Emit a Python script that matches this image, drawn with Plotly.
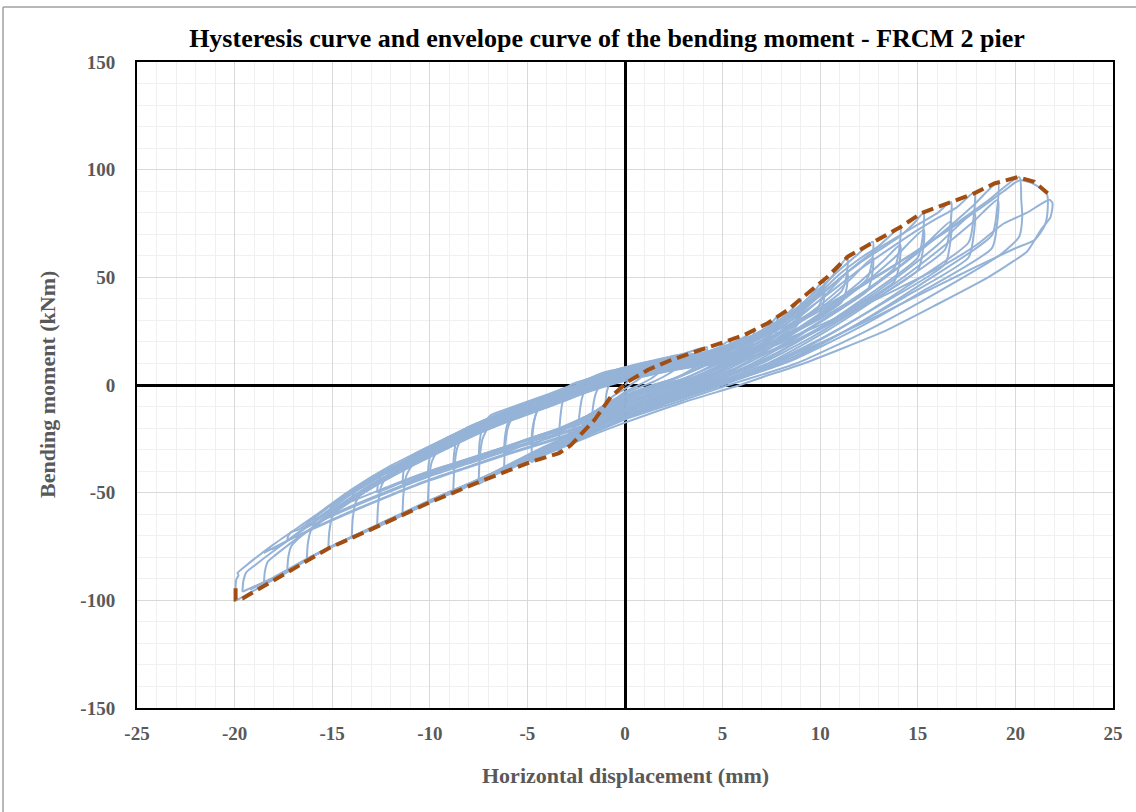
import plotly.graph_objects as go

# ---------------- data ----------------
x_tick_vals = [-25, -20, -15, -10, -5, 0, 5, 10, 15, 20, 25]
x_tick_text = ["-25", "-20", "-15", "-10", "-5", "0", "5", "10", "15", "20", "25"]
y_tick_vals = [-150, -100, -50, 0, 50, 100, 150]
y_tick_text = ["-150", "-100", "-50", "0", "50", "100", "150"]

envelope_x = [-19.95, -19.95, -19.6, -18.0, -15.2, -12.7, -10.1, -7.44, -4.8, -3.38, -2.77, -1.57, -0.72,
              0.14, 1.16, 2.36, 3.9, 4.92, 6.11, 7.31, 8.33, 9.36, 10.38, 11.41, 12.77, 14.14, 15.16,
              16.53, 17.89, 18.92, 20.12, 20.97, 21.65]
envelope_y = [-94.4, -99.6, -99.2, -90.6, -75.9, -65.8, -54.9, -44.9, -35.6, -31.7, -27.9, -16.3, -5.4,
              1.5, 7.0, 11.6, 16.3, 19.4, 23.2, 28.7, 34.8, 42.6, 50.3, 59.6, 66.6, 73.5, 79.7,
              84.4, 89.0, 93.6, 96.5, 94.4, 89.0]

loop_c01 = [(0, 0), (0.3, 3.2), (0.6, 5.6), (1.0, 7.5), (0.95, 5.2), (0.75, 3), (0.4, 0.8), (0, -1.8),
            (-0.5, -4.5), (-1.0, -8)]
loop_c02 = [(-1.0, -8), (-0.95, -4), (-0.8, 0.5), (-0.5, 4.5), (0, 7.5), (1, 10), (2, 11.8), (1.95, 8.8),
            (1.75, 6), (1.3, 2.8), (0.6, -0.5), (0, -3.2), (-0.6, -7.5), (-1.2, -12.5), (-1.7, -18)]
loop_c03 = [(-1.7, -18), (-1.65, -11), (-1.5, -4), (-1.2, 1.5), (-1, 4.5), (0, 8), (1, 10.3), (2, 12.3),
            (3, 14.2), (2.95, 11.2), (2.7, 8.2), (2.2, 5), (1.5, 1.7), (0.6, -1.6), (0, -4), (-1, -9),
            (-1.8, -14.5), (-2.2, -19), (-2.4, -24)]
loop_c04 = [(-2.4, -24), (-2.35, -15), (-2.2, -6), (-1.9, 0.5), (-1, 5.5), (0, 8.3), (1, 10.5), (2, 12.5),
            (3, 14.5), (4.2, 17.5), (4.15, 14), (3.9, 10.6), (3.3, 6.6), (2.5, 3), (1.5, 0), (0.5, -3),
            (0, -5), (-1, -9.5), (-2, -15), (-2.8, -21.5), (-3.2, -27), (-3.4, -31.5)]
loop_c05 = [(-3.4, -31.5), (-3.35, -19), (-3.2, -8), (-2.8, 0), (-2, 2.5), (-1, 6), (0, 8), (1, 10), (2, 12),
            (3, 13.8), (4, 15), (4.8, 17.5), (5.4, 20.8), (5.35, 17.8), (5.1, 15.3), (4.2, 10.3), (3.35, 6.2),
            (2.5, 2.6), (1.6, 0), (0.8, -3), (0, -6), (-1, -11.8), (-2, -18.7), (-3, -25.5), (-4, -31.3),
            (-4.8, -36)]
loop_r05 = [(-4.8, -36), (-4.75, -24.5), (-4.6, -14.5), (-4.2, -7.1), (-3, -3.5), (-2, 0.5), (-1, 4), (0, 6),
            (1, 8), (2, 10), (3, 12.2), (4, 13.5), (4.9, 15.7), (5.4, 18.5), (5.35, 16), (5.1, 13.7),
            (4.2, 9.3), (3.25, 5.5), (2.3, 2.3), (1.4, 0), (0.7, -2.5), (0, -5), (-1, -9.4), (-2, -14.8),
            (-3, -20.1), (-4, -24.5), (-4.8, -28)]
loop_c06 = [(-4.8, -28), (-4.75, -20.9), (-4.6, -14.6), (-4.2, -6.1), (-3, -2.5), (-2, 1.5), (-1, 5), (0, 7),
            (1, 9), (2, 11), (3, 13), (4, 14.5), (5, 17.5), (5.8, 20.8), (6.3, 23.3), (6.6, 25.5), (6.55, 21.9),
            (6.3, 18.9), (5.2, 12.9), (4.15, 7.7), (3.1, 3.2), (2, 0), (1, -3.5), (0, -7), (-1, -12.1),
            (-2, -18.1), (-3, -24.2), (-4, -29.3), (-5, -34.3), (-6.2, -41)]
loop_r06 = [(-6.2, -41), (-6.15, -29.6), (-6.0, -19.8), (-5.6, -12.6), (-4, -7.5), (-2, -0.5), (-1, 2.5),
            (0, 5), (1, 7), (2, 9), (3, 10.8), (4, 12), (5, 14.3), (5.8, 18.2), (6.6, 23), (6.55, 19.8),
            (6.3, 17), (5.2, 11.8), (4.05, 6.9), (2.9, 2.7), (1.8, 0), (0.9, -3), (0, -6), (-1, -9.8),
            (-2, -14.55), (-3, -19.3), (-4, -23.1), (-5, -26.9), (-6.2, -32)]
loop_c07 = [(-6.2, -32), (-6.15, -24.2), (-6.0, -17.6), (-5.6, -11.6), (-4, -6.5), (-2, 0.5), (0, 6), (2, 10),
            (4, 13), (5, 17), (6, 20.5), (7, 25.3), (7.5, 28.6), (7.8, 32), (7.75, 27.5), (7.5, 23.7),
            (6.2, 16.3), (4.9, 9.6), (3.6, 3.9), (2.3, 0), (1.2, -4), (0, -8), (-1, -12.6), (-2, -18.3),
            (-3.5, -26.2), (-5, -33.2), (-6.5, -40.9), (-7.5, -46)]
loop_r07 = [(-7.5, -46), (-7.45, -34.9), (-7.3, -25.1), (-6.9, -18.2), (-6, -14.5), (-4, -8), (-2, -1),
            (0, 4.5), (2, 8.5), (4, 11.5), (5, 13.3), (6, 17.3), (7, 23), (7.8, 28.5), (7.75, 24.5),
            (7.5, 21.1), (6.15, 14.5), (4.8, 8.6), (3.45, 3.5), (2.1, 0), (1.05, -3.5), (0, -7), (-1, -10.3),
            (-2, -14.6), (-3.5, -20.55), (-5, -25.5), (-6.5, -31.2), (-7.5, -35)]
loop_c08 = [(-7.5, -35), (-7.45, -26.7), (-7.3, -19.4), (-6.9, -14.2), (-6, -11), (-4, -4.5), (-2, 2.5),
            (0, 8), (2, 12), (4, 15), (5, 17.8), (6, 21), (7, 25.3), (8, 30.8), (8.6, 35.5), (9, 40),
            (8.95, 34.4), (8.7, 29.6), (7.2, 20.4), (5.65, 12), (4.1, 4.9), (2.6, 0), (1.3, -4.5), (0, -9),
            (-1.5, -15.9), (-3, -23.8), (-4.5, -30.2), (-6, -37.1), (-7.5, -44.3), (-8.8, -50.5)]
loop_r08 = [(-8.8, -50.5), (-8.75, -39.3), (-8.6, -29.4), (-8.2, -22.4), (-7, -17.5), (-5, -10.5), (-3, -4),
            (-1, 3), (1, 7), (3, 11), (4, 12), (5.5, 15.2), (7, 22), (8.2, 29.5), (9, 35.5), (8.95, 30.5),
            (8.7, 26.3), (7.12, 18.1), (5.55, 10.7), (3.98, 4.3), (2.4, 0), (1.2, -4), (0, -8), (-1.5, -13),
            (-3, -19.1), (-4.5, -23.6), (-6, -28.6), (-7.5, -33.9), (-8.8, -38.5)]
loop_c09 = [(-8.8, -38.5), (-8.75, -31.3), (-8.6, -24.9), (-8.2, -20.4), (-7, -15.5), (-5, -8.5), (-3, -2),
            (-1, 5), (1, 9), (3, 13), (4, 14), (5, 17.2), (6, 20.5), (7, 24.8), (8, 30), (9, 37),
            (9.7, 43.5), (10.2, 49), (10.15, 42.1), (9.9, 36.3), (8.15, 25), (6.4, 14.7), (4.65, 6),
            (2.9, 0), (1.45, -5), (0, -10), (-1.5, -16.5), (-3, -24.5), (-5, -33), (-7, -42.3),
            (-8.7, -49.5), (-10.1, -55)]
loop_r09 = [(-10.1, -55), (-10.05, -44.7), (-9.9, -35.7), (-9.5, -29.3), (-8, -22.5), (-6, -15), (-4, -8.5),
            (-2, -1.5), (0, 4), (2, 8), (4, 11), (5.5, 14), (7, 20.8), (8.5, 30.1), (9.5, 37.6), (10.2, 43.5),
            (10.15, 37.4), (9.9, 32.2), (8.1, 22.2), (6.3, 13.1), (4.5, 5.3), (2.7, 0), (1.35, -4.5), (0, -9),
            (-1.5, -13.7), (-3, -19.4), (-5, -25.1), (-7, -31.7), (-8.7, -37.4), (-10.1, -42)]
loop_c10 = [(-10.1, -42), (-10.05, -36.1), (-9.9, -31), (-9.5, -27.3), (-8, -20.5), (-6, -13), (-4, -6.5),
            (-2, 0.5), (0, 6), (2, 10), (4, 13), (5, 16.5), (6, 20), (7, 24.2), (8, 29.5), (9, 36.2),
            (10, 44), (10.8, 52.5), (11.4, 59.5), (11.35, 50.8), (11.1, 43.6), (9.1, 30), (7.15, 17.7),
            (5.2, 7.1), (3.2, 0), (1.6, -5.5), (0, -11), (-2, -20), (-4, -29.3), (-6, -37.8), (-8, -46.5),
            (-10, -54.5), (-11.4, -60.5)]
loop_r10 = [(-11.4, -60.5), (-11.35, -50.7), (-11.2, -42.1), (-10.8, -36.1), (-9, -28), (-7, -19.5),
            (-5, -12.5), (-3, -6), (-1, 1), (1, 5), (3, 9), (4, 10), (6, 14.5), (7.5, 22), (9, 32),
            (10.3, 42.2), (11.4, 52), (11.35, 44.7), (11.1, 38.5), (9.1, 26.5), (7.05, 15.6), (5, 6.35),
            (3, 0), (1.5, -5), (0, -10), (-2, -16.3), (-4, -22.6), (-6, -28.3), (-8, -34.6), (-10, -40.9),
            (-11.4, -46)]
loop_c11 = [(-11.4, -46), (-11.35, -40.4), (-11.2, -35.5), (-10.8, -32.1), (-9, -24), (-7, -15.5), (-5, -8.5),
            (-3, -2), (-1, 5), (1, 9), (3, 13), (4, 14), (5, 17.3), (6, 20.6), (7, 25), (8, 30.4), (9, 37.3),
            (10, 45), (11, 53.5), (11.9, 60.5), (12.7, 66.5), (12.65, 57.2), (12.4, 49.2), (10.2, 33.8),
            (7.95, 20), (5.7, 8.1), (3.5, 0), (1.75, -6), (0, -12), (-2, -20.8), (-4, -29.6), (-6, -37.8),
            (-8, -46.3), (-10, -54.5), (-11.5, -61), (-12.7, -66)]
loop_r11 = [(-12.7, -66), (-12.65, -56), (-12.5, -47.3), (-12.1, -41), (-10, -31.5), (-8, -22.5), (-6, -15),
            (-4, -8.5), (-2, -1.5), (0, 4), (2, 8), (4, 11), (6, 15), (8, 24.2), (10, 37), (11.5, 48.7),
            (12.7, 59), (12.65, 50.7), (12.4, 43.7), (10.1, 30.1), (7.85, 17.7), (5.6, 7.2), (3.3, 0),
            (1.65, -5.5), (0, -11), (-2, -17), (-4, -22.9), (-6, -28.4), (-8, -34.3), (-10, -40.3),
            (-11.5, -45.5), (-12.7, -50)]
loop_c12 = [(-12.7, -50), (-12.65, -45.6), (-12.5, -41.8), (-12.1, -39), (-10, -29.5), (-8, -20.5), (-6, -13),
            (-4, -6.5), (-2, 0.5), (0, 6), (2, 10), (4, 13), (6, 19.5), (8, 29), (9, 35.5), (10, 43),
            (11, 51.5), (12, 58.5), (13, 64.5), (13.6, 69.5), (14.1, 73.5), (14.05, 63.2), (13.8, 54.4),
            (11.3, 37.4), (8.8, 22.1), (6.3, 9), (3.8, 0), (1.9, -6.2), (0, -12.5), (-2, -21), (-4, -29.8),
            (-6, -37.8), (-8, -46), (-10, -54), (-12, -62.8), (-14, -71)]
loop_r12 = [(-14, -71), (-13.95, -62.3), (-13.8, -54.6), (-13.4, -49.2), (-12, -41.5), (-10, -32.5), (-8, -23.5),
            (-6, -16), (-4, -9.5), (-2, -2.5), (0, 3), (2, 7), (4, 10), (6, 13.8), (8, 21.7), (10, 33.3),
            (12, 47.6), (13.2, 57.3), (14.1, 65), (14.05, 55.9), (13.8, 48.1), (11.25, 33.1), (8.7, 19.5),
            (6.15, 7.9), (3.6, 0), (1.8, -5.7), (0, -11.5), (-2, -17.3), (-4, -23.1), (-6, -28.35),
            (-8, -34.15), (-10, -39.9), (-12, -46.7), (-14, -54)]
loop_c13 = [(-14, -54), (-13.95, -51.3), (-13.8, -49), (-13.4, -47.2), (-12, -39.5), (-10, -30.5), (-8, -21.5),
            (-6, -14), (-4, -7.5), (-2, -0.5), (0, 5), (2, 9), (4, 12), (6, 18.5), (8, 28), (10, 41.5),
            (11, 49.5), (12, 56.5), (13, 62.5), (14, 68.5), (14.8, 75), (15.3, 80), (15.25, 68.8),
            (15.0, 59.2), (12.3, 40.7), (9.55, 24), (6.8, 9.8), (4.1, 0), (2.05, -6.5), (0, -13),
            (-2, -21.5), (-4, -30), (-6, -37.8), (-8, -45.8), (-10, -53.7), (-12, -62.5), (-14, -70.5),
            (-15.2, -76)]
loop_r13 = [(-15.2, -76), (-15.15, -68.2), (-15.0, -61.3), (-14.6, -56.4), (-13, -47), (-11, -37), (-9, -28),
            (-7, -19.5), (-5, -12.5), (-3, -6), (-1, 1), (1, 5), (3, 9), (4, 10), (6, 13.5), (8, 21),
            (10, 31.9), (12, 45.3), (13.8, 59.1), (15.3, 72), (15.25, 61.9), (15.0, 53.3), (12.2, 36.7),
            (9.45, 21.6), (6.7, 8.8), (3.9, 0), (1.95, -6), (0, -12), (-2, -18.6), (-4, -24.05), (-6, -29.6),
            (-8, -35.6), (-10, -41.6), (-12, -48.7), (-14, -56.2), (-15.2, -61)]
loop_c14 = [(-15.2, -61), (-15.15, -58.4), (-15.0, -56), (-14.6, -53.4), (-13, -44), (-11, -34), (-9, -25),
            (-7, -16.5), (-5, -9.5), (-3, -3), (-1, 4), (1, 8), (3, 12), (4, 13), (6, 19), (8, 28.5),
            (10, 42), (12, 57), (13, 63.5), (14, 69), (15, 74.5), (16, 79.8), (16.7, 85), (16.65, 73.1),
            (16.4, 62.9), (13.4, 43.3), (10.4, 25.5), (7.4, 10.4), (4.4, 0), (2.2, -7), (0, -14),
            (-2, -22.2), (-4, -30.6), (-6, -38), (-8, -45.8), (-10, -53.6), (-12, -62.3), (-14, -70.6),
            (-15.3, -76), (-16.3, -81)]
loop_r14 = [(-16.3, -81), (-16.25, -73.9), (-16.1, -67.8), (-15.7, -63.6), (-14, -52.5), (-12, -41.5),
            (-10, -32.5), (-8, -23.5), (-6, -16), (-4, -9.5), (-2, -2.5), (0, 3), (2, 7), (4, 10), (6, 13),
            (8, 19.6), (10, 29.2), (12, 41), (14, 54.7), (15.5, 66.2), (16.7, 76), (16.65, 65.4),
            (16.4, 56.2), (13.35, 38.7), (10.3, 22.8), (7.25, 9.3), (4.2, 0), (2.1, -6.5), (0, -13),
            (-2, -19), (-4, -25), (-6, -30.4), (-8, -36.4), (-10, -42.4), (-12, -49.35), (-14, -56.8),
            (-15.3, -62), (-16.3, -66)]
loop_c15 = [(-16.3, -66), (-16.25, -64.2), (-16.1, -62.7), (-15.7, -61.6), (-14, -50.5), (-12, -39.5),
            (-10, -30.5), (-8, -21.5), (-6, -14), (-4, -7.5), (-2, -0.5), (0, 5), (2, 9), (4, 12), (6, 18),
            (8, 27), (10, 39.5), (12, 53.5), (14, 66), (15, 72), (16, 77.5), (17, 82.5), (17.9, 89.5),
            (17.85, 77), (17.6, 66.2), (14.4, 45.5), (11.15, 26.9), (7.9, 10.9), (4.7, 0), (2.35, -7.5),
            (0, -15), (-2, -23), (-4, -31.2), (-6, -38.6), (-8, -46.3), (-10, -54), (-12, -62.5),
            (-14, -70.7), (-16, -79.5), (-17.3, -86)]
loop_r15 = [(-17.3, -86), (-17.25, -80), (-17.1, -74.9), (-16.7, -71), (-15, -60), (-13, -48), (-11, -38),
            (-9, -29), (-7, -20.5), (-5, -13.5), (-3, -7), (-1, 0), (1, 4), (3, 8), (4, 9), (6, 11.8),
            (8, 17.8), (10, 26.8), (12, 37.8), (14, 50.5), (16, 64.9), (17.9, 80), (17.85, 68.8),
            (17.6, 59.2), (14.3, 40.7), (11.05, 24), (7.8, 9.8), (4.5, 0), (2.25, -7), (0, -14), (-2, -20.1),
            (-4, -26.15), (-6, -31.7), (-8, -37.8), (-10, -43.9), (-12, -51), (-14, -58.5), (-16, -66.6),
            (-17.3, -72)]
loop_c16 = [(-17.3, -72), (-17.25, -70), (-17.1, -68.3), (-16.7, -67), (-15, -55.5), (-13, -43.5), (-11, -34),
            (-9, -25), (-7, -16.5), (-5, -9.5), (-3, -3), (-1, 4), (1, 8), (3, 12), (4, 13), (6, 15.6),
            (8, 21.8), (10, 30.7), (12, 41.7), (14, 54.4), (16, 68.8), (17.8, 83), (19.1, 94), (19.05, 80.8),
            (18.8, 69.6), (15.35, 47.9), (11.9, 28.3), (8.45, 11.5), (5, 0), (2.5, -7.5), (0, -15.5),
            (-2, -23.5), (-4, -31.5), (-6, -38.8), (-8, -46.5), (-10, -54.2), (-12, -62.7), (-14, -70.8),
            (-16, -79.7), (-17.5, -88), (-18.5, -92.5)]
loop_r16 = [(-18.5, -92.5), (-18.45, -86.7), (-18.3, -82.1), (-17.9, -78.9), (-16, -66), (-14, -53.5),
            (-12, -42.5), (-10, -33.5), (-8, -24.5), (-6, -17), (-4, -10.5), (-2, -3.5), (0, 2), (2, 6),
            (4, 9), (6, 11.5), (8, 17.3), (10, 25.8), (12, 36.2), (14, 48.3), (16, 62.1), (17.8, 75.5),
            (19.1, 86), (19.05, 74), (18.8, 63.6), (15.3, 43.8), (11.8, 25.8), (8.3, 10.5), (4.8, 0),
            (2.4, -7), (0, -14.5), (-2, -20.55), (-4, -26.6), (-6, -32.2), (-8, -38.2), (-10, -44.3),
            (-12, -51.3), (-14, -58.9), (-16, -66.9), (-17.5, -73.2), (-18.5, -78)]
loop_c17 = [(-18.5, -78), (-18.45, -77.2), (-18.3, -76.5), (-17.9, -75.9), (-16, -63.5), (-14, -50.5),
            (-12, -39.5), (-10, -30.5), (-8, -21.5), (-6, -14), (-4, -7.5), (-2, -0.5), (0, 5), (2, 9),
            (4, 12), (6, 16.6), (8, 24.8), (10, 34.5), (12, 45.2), (13.5, 53.7), (15, 62.7), (17, 75.2),
            (18.6, 85.7), (20.2, 96.5), (20.3, 86), (20.35, 78), (20.2, 69), (19.3, 61), (15.8, 42),
            (12.3, 24.8), (8.8, 10.1), (5.3, 0), (2.65, -8), (0, -16), (-2, -23.8), (-4, -31.7), (-6, -39),
            (-8, -46.6), (-10, -54.3), (-12, -62.7), (-14, -70.8), (-16, -79.6), (-18, -90.3), (-19.9, -100)]
loop_c18 = [(-19.9, -100), (-19.95, -95), (-19.9, -90), (-19.8, -88.5), (-19.85, -87.3), (-19.5, -84.5),
            (-18, -74), (-16, -61.5), (-14, -48.5), (-12, -37.5), (-10, -28.5), (-8, -19.5), (-6, -12),
            (-4, -5.5), (-2, 1.5), (0, 7), (2, 11), (4, 14), (6, 18.4), (8, 26.3), (10, 35.6), (12, 45.8),
            (14, 56.8), (16, 68.5), (18, 80.8), (19.4, 90), (20.2, 95), (20.9, 93.5), (21.6, 89),
            (21.65, 81), (21.5, 74), (21, 67.5), (20, 63.5), (18, 55), (16, 46), (14, 37), (12, 28),
            (10, 19.5), (8, 12), (6, 5.5), (4.5, 0), (2.2, -8), (0, -15.5), (-2, -22.7), (-4, -30.5),
            (-6, -38), (-8, -45.8), (-10, -53.6), (-12, -62), (-14, -70.5), (-16, -79.3), (-18, -89.3),
            (-19.6, -96)]
loop_c19 = [(-19.6, -96), (-19.55, -91), (-19.4, -87), (-19, -84), (-17, -70.5), (-15, -58), (-13, -46),
            (-11, -36), (-9, -27), (-7, -18.5), (-5, -11.5), (-3, -5), (-1, 2), (1, 6), (3, 10), (4, 11),
            (6, 14.3), (8, 20.5), (10, 27.8), (12, 36), (14, 44.8), (16, 54), (18, 65), (19.4, 75),
            (20.6, 80), (21.3, 84), (21.75, 86), (21.9, 84.5), (21.8, 78), (21.3, 72), (20.6, 62),
            (19.9, 57.5), (18.6, 50), (16, 37.5), (13.3, 25), (11, 16.5), (9, 9.5), (7, 3.5), (5.9, 0),
            (3, -8), (0, -17.5), (-2, -24.5), (-4, -32), (-6, -39.2), (-8, -46.5), (-10, -54), (-12, -62.2),
            (-14, -70.6), (-16, -79.5), (-18, -89.6), (-19.2, -95)]

loops = [loop_c01, loop_c02, loop_c03, loop_c04, loop_c05, loop_r05, loop_c06, loop_r06, loop_c07, loop_r07,
         loop_c08, loop_r08, loop_c09, loop_r09, loop_c10, loop_r10, loop_c11, loop_r11, loop_c12, loop_r12,
         loop_c13, loop_r13, loop_c14, loop_r14, loop_c15, loop_r15, loop_c16, loop_r16, loop_c17, loop_c18,
         loop_c19]

# ---------------- figure ----------------
W, H = 1136, 812
L, R, T, B = 137, 23, 62, 104
pw, ph = W - L - R, H - T - B

LOOP_COLOR = "#95B3D7"
ENV_COLOR = "#A24E12"
TXT_GRAY = "#595959"
SERIF = "Liberation Serif"

fig = go.Figure()
for lp in loops:
    fig.add_trace(go.Scatter(
        x=[p[0] for p in lp], y=[p[1] for p in lp], mode="lines",
        line=dict(color=LOOP_COLOR, width=2, shape="spline", smoothing=0.6),
        showlegend=False, hoverinfo="skip"))

fig.add_trace(go.Scatter(
    x=envelope_x, y=envelope_y, mode="lines",
    line=dict(color=ENV_COLOR, width=4, dash="12px,6px"),
    showlegend=False, hoverinfo="skip"))

axis_common = dict(
    showgrid=True, gridcolor="#D9D9D9", gridwidth=1,
    zeroline=True, zerolinecolor="black", zerolinewidth=2.5,
    showline=True, mirror=True, linecolor="black", linewidth=2,
    ticks="", tickmode="array",
    tickfont=dict(family=SERIF, size=19, color=TXT_GRAY, weight="bold"),
)

fig.update_layout(
    width=W, height=H,
    margin=dict(l=L, r=R, t=T, b=B, autoexpand=False),
    paper_bgcolor="white", plot_bgcolor="white",
    title=dict(text="<b>Hysteresis curve and envelope curve of the bending moment - FRCM 2 pier</b>",
               font=dict(family=SERIF, size=26, color="black"),
               x=607 / W, xref="container", xanchor="center",
               y=1 - 38 / H, yref="container", yanchor="middle"),
    xaxis=dict(range=[-25, 25], tickvals=x_tick_vals, ticktext=x_tick_text, ticklabelstandoff=7,
               minor=dict(tickmode="linear", tick0=0, dtick=1, showgrid=True, gridcolor="#F0F0F0", gridwidth=1),
               **axis_common),
    yaxis=dict(range=[-150, 150], tickvals=y_tick_vals, ticktext=y_tick_text, ticklabelstandoff=16,
               minor=dict(tickmode="linear", tick0=0, dtick=10, showgrid=True, gridcolor="#F0F0F0", gridwidth=1),
               **axis_common),
    annotations=[
        dict(text="<b>Horizontal displacement (mm)</b>", xref="paper", yref="paper",
             x=0.5, y=(T + ph - 776) / ph, xanchor="center", yanchor="middle", showarrow=False,
             font=dict(family=SERIF, size=22, color=TXT_GRAY)),
        dict(text="<b>Bending moment (kNm)</b>", xref="paper", yref="paper",
             x=(47 - L) / pw, y=0.5, xanchor="center", yanchor="middle", showarrow=False, textangle=-90,
             font=dict(family=SERIF, size=22, color=TXT_GRAY)),
    ],
    shapes=[
        dict(type="line", xref="paper", yref="paper", x0=(3 - L) / pw, x1=(W - L) / pw,
             y0=(T + ph - 7) / ph, y1=(T + ph - 7) / ph, line=dict(color="#A0A0A0", width=1.5)),
        dict(type="line", xref="paper", yref="paper", x0=(3 - L) / pw, x1=(3 - L) / pw,
             y0=(T + ph - 7) / ph, y1=-(B + 5) / ph, line=dict(color="#A0A0A0", width=1.5)),
    ],
)

fig.write_html("out.html", config={"displayModeBar": False},
               post_script="document.body.style.margin='0px';")
